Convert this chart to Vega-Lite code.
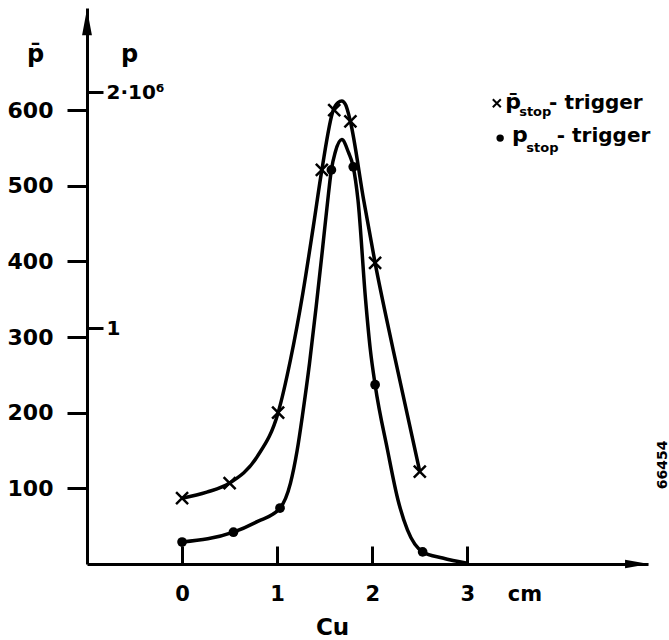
{
  "$schema": "https://vega.github.io/schema/vega-lite/v6.json",
  "width": 561,
  "height": 556,
  "autosize": "none",
  "padding": {"left": 87, "top": 8, "right": 21, "bottom": 76},
  "background": "white",
  "config": {
    "view": {"stroke": null},
    "axis": {
      "grid": false,
      "domainColor": "black",
      "domainWidth": 3,
      "tickColor": "black",
      "tickWidth": 3,
      "labelColor": "black",
      "labelFont": "DejaVu Sans",
      "labelFontWeight": "bold",
      "titleColor": "black",
      "titleFont": "DejaVu Sans",
      "titleFontWeight": "bold"
    },
    "text": {"font": "DejaVu Sans", "fontWeight": "bold", "color": "black"}
  },
  "datasets": {
    "one": [{}],
    "curves": [
      {"series": "pbar", "cu": 0, "count": 87},
      {"series": "pbar", "cu": 0.26, "count": 95},
      {"series": "pbar", "cu": 0.5, "count": 107},
      {"series": "pbar", "cu": 0.79, "count": 142},
      {"series": "pbar", "cu": 1.01, "count": 200},
      {"series": "pbar", "cu": 1.14, "count": 270},
      {"series": "pbar", "cu": 1.27, "count": 358},
      {"series": "pbar", "cu": 1.38, "count": 446},
      {"series": "pbar", "cu": 1.47, "count": 521},
      {"series": "pbar", "cu": 1.59, "count": 600},
      {"series": "pbar", "cu": 1.64, "count": 610},
      {"series": "pbar", "cu": 1.68, "count": 612},
      {"series": "pbar", "cu": 1.72, "count": 607},
      {"series": "pbar", "cu": 1.77, "count": 585},
      {"series": "pbar", "cu": 1.91, "count": 481},
      {"series": "pbar", "cu": 2.03, "count": 398},
      {"series": "pbar", "cu": 2.22, "count": 283},
      {"series": "pbar", "cu": 2.5, "count": 122},
      {"series": "p", "cu": 0, "count": 29},
      {"series": "p", "cu": 0.54, "count": 42},
      {"series": "p", "cu": 0.79, "count": 56},
      {"series": "p", "cu": 1.03, "count": 74},
      {"series": "p", "cu": 1.14, "count": 107},
      {"series": "p", "cu": 1.21, "count": 150},
      {"series": "p", "cu": 1.27, "count": 200},
      {"series": "p", "cu": 1.34, "count": 265},
      {"series": "p", "cu": 1.41, "count": 340},
      {"series": "p", "cu": 1.48, "count": 420},
      {"series": "p", "cu": 1.54, "count": 490},
      {"series": "p", "cu": 1.57, "count": 521},
      {"series": "p", "cu": 1.61, "count": 544},
      {"series": "p", "cu": 1.68, "count": 561},
      {"series": "p", "cu": 1.75, "count": 544},
      {"series": "p", "cu": 1.8, "count": 525},
      {"series": "p", "cu": 1.85, "count": 481},
      {"series": "p", "cu": 1.93, "count": 349},
      {"series": "p", "cu": 1.98, "count": 283},
      {"series": "p", "cu": 2.03, "count": 237},
      {"series": "p", "cu": 2.16, "count": 151},
      {"series": "p", "cu": 2.27, "count": 85},
      {"series": "p", "cu": 2.37, "count": 45},
      {"series": "p", "cu": 2.53, "count": 16},
      {"series": "p", "cu": 2.74, "count": 8},
      {"series": "p", "cu": 3.0, "count": 1}
    ],
    "points": [
      {"series": "pbar", "cu": 0, "count": 87},
      {"series": "pbar", "cu": 0.5, "count": 107},
      {"series": "pbar", "cu": 1.01, "count": 200},
      {"series": "pbar", "cu": 1.47, "count": 521},
      {"series": "pbar", "cu": 1.6, "count": 600},
      {"series": "pbar", "cu": 1.77, "count": 585},
      {"series": "pbar", "cu": 2.03, "count": 398},
      {"series": "pbar", "cu": 2.5, "count": 122},
      {"series": "p", "cu": 0, "count": 29},
      {"series": "p", "cu": 0.54, "count": 42},
      {"series": "p", "cu": 1.03, "count": 74},
      {"series": "p", "cu": 1.57, "count": 521},
      {"series": "p", "cu": 1.8, "count": 525},
      {"series": "p", "cu": 2.03, "count": 237},
      {"series": "p", "cu": 2.53, "count": 16}
    ]
  },
  "layer": [
    {
      "layer": [
        {
          "data": {"name": "curves"},
          "mark": {"type": "line", "interpolate": "monotone", "color": "black", "strokeWidth": 3.5},
          "encoding": {
            "x": {
              "field": "cu", "type": "quantitative",
              "scale": {"domain": [-1, 4.9], "nice": false, "zero": false},
              "axis": {
                "values": [0, 1, 2, 3, 3.6],
                "tickSize": -18,
                "labelPadding": 37,
                "labelFontSize": 21,
                "labelExpr": "datum.value == 3.6 ? 'cm' : format(datum.value, 'd')",
                "tickOpacity": {"condition": {"test": "datum.value == 3.6", "value": 0}, "value": 1},
                "title": "Cu",
                "titleFontSize": 23,
                "titleX": 245,
                "titleY": 70,
                "titleAlign": "center",
                "titleBaseline": "alphabetic"
              }
            },
            "y": {
              "field": "count", "type": "quantitative",
              "scale": {"domain": [0, 735], "nice": false},
              "axis": {
                "values": [100, 200, 300, 400, 500, 600],
                "tickSize": 20,
                "labelPadding": 14,
                "labelFontSize": 22,
                "title": "p̄",
                "titleFontSize": 24,
                "titleAngle": 0,
                "titleX": -52,
                "titleY": 53,
                "titleAlign": "center",
                "titleBaseline": "alphabetic"
              }
            },
            "detail": {"field": "series"}
          }
        },
        {
          "data": {"name": "points"},
          "transform": [{"filter": "datum.series == 'pbar'"}],
          "mark": {"type": "point", "shape": "M-1,-1L1,1M-1,1L1,-1", "filled": false, "stroke": "black", "strokeWidth": 2.5, "size": 144, "opacity": 1},
          "encoding": {
            "x": {"field": "cu", "type": "quantitative"},
            "y": {"field": "count", "type": "quantitative"}
          }
        },
        {
          "data": {"name": "points"},
          "transform": [{"filter": "datum.series == 'p'"}],
          "mark": {"type": "circle", "color": "black", "size": 95, "opacity": 1},
          "encoding": {
            "x": {"field": "cu", "type": "quantitative"},
            "y": {"field": "count", "type": "quantitative"}
          }
        },
        {
          "data": {"name": "one"},
          "mark": {"type": "point", "shape": "M0,-1L0.38,1L-0.38,1Z", "filled": true, "color": "black", "size": 676, "opacity": 1},
          "encoding": {"x": {"datum": -1, "type": "quantitative"}, "y": {"datum": 716, "type": "quantitative"}}
        },
        {
          "data": {"name": "one"},
          "mark": {"type": "point", "shape": "M1,0L-1,-0.35L-1,0.35Z", "filled": true, "color": "black", "size": 576, "opacity": 1},
          "encoding": {"x": {"datum": 4.785, "type": "quantitative"}, "y": {"datum": 0, "type": "quantitative"}}
        },
        {
          "data": {"name": "one"},
          "mark": {"type": "point", "shape": "M-1,-1L1,1M-1,1L1,-1", "filled": false, "stroke": "black", "strokeWidth": 2, "size": 64, "opacity": 1},
          "encoding": {"x": {"datum": 3.31, "type": "quantitative"}, "y": {"datum": 609, "type": "quantitative"}}
        },
        {
          "data": {"name": "one"},
          "mark": {"type": "text", "text": "p̄", "fontSize": 22, "align": "left", "baseline": "alphabetic"},
          "encoding": {"x": {"datum": 3.4, "type": "quantitative"}, "y": {"datum": 601, "type": "quantitative"}}
        },
        {
          "data": {"name": "one"},
          "mark": {"type": "text", "text": "stop", "fontSize": 13, "align": "left", "baseline": "alphabetic"},
          "encoding": {"x": {"datum": 3.545, "type": "quantitative"}, "y": {"datum": 592, "type": "quantitative"}}
        },
        {
          "data": {"name": "one"},
          "mark": {"type": "text", "text": "- trigger", "fontSize": 20, "align": "left", "baseline": "alphabetic"},
          "encoding": {"x": {"datum": 3.86, "type": "quantitative"}, "y": {"datum": 601, "type": "quantitative"}}
        },
        {
          "data": {"name": "one"},
          "mark": {"type": "circle", "color": "black", "size": 55, "opacity": 1},
          "encoding": {"x": {"datum": 3.345, "type": "quantitative"}, "y": {"datum": 563, "type": "quantitative"}}
        },
        {
          "data": {"name": "one"},
          "mark": {"type": "text", "text": "p", "fontSize": 22, "align": "left", "baseline": "alphabetic"},
          "encoding": {"x": {"datum": 3.47, "type": "quantitative"}, "y": {"datum": 558, "type": "quantitative"}}
        },
        {
          "data": {"name": "one"},
          "mark": {"type": "text", "text": "stop", "fontSize": 13, "align": "left", "baseline": "alphabetic"},
          "encoding": {"x": {"datum": 3.62, "type": "quantitative"}, "y": {"datum": 545, "type": "quantitative"}}
        },
        {
          "data": {"name": "one"},
          "mark": {"type": "text", "text": "- trigger", "fontSize": 20, "align": "left", "baseline": "alphabetic"},
          "encoding": {"x": {"datum": 3.94, "type": "quantitative"}, "y": {"datum": 558, "type": "quantitative"}}
        },
        {
          "data": {"name": "one"},
          "mark": {"type": "text", "text": "66454", "fontSize": 14, "angle": 270, "align": "center", "baseline": "middle"},
          "encoding": {"x": {"datum": 5.06, "type": "quantitative"}, "y": {"datum": 131, "type": "quantitative"}}
        }
      ]
    },
    {
      "data": {"name": "one"},
      "mark": {"type": "point", "opacity": 0},
      "encoding": {
        "x": {"datum": -1, "type": "quantitative"},
        "y": {
          "datum": 1000000, "type": "quantitative",
          "scale": {"domain": [0, 2356000], "nice": false},
          "axis": {
            "orient": "left",
            "values": [1000000, 2000000],
            "domain": false,
            "tickSize": -16,
            "labelPadding": -3,
            "labelAlign": "left",
            "labelFontSize": 20,
            "labelExpr": "datum.value == 1000000 ? '1' : '2·10⁶'",
            "title": "p",
            "titleFontSize": 24,
            "titleAngle": 0,
            "titleX": 42,
            "titleY": 53,
            "titleAlign": "center",
            "titleBaseline": "alphabetic"
          }
        }
      }
    }
  ],
  "resolve": {"scale": {"y": "independent"}, "axis": {"y": "independent"}}
}
